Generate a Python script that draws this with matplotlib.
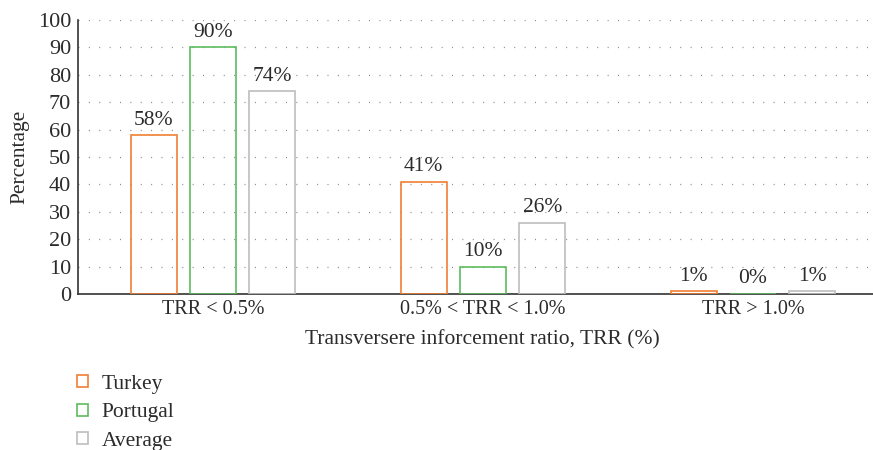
import matplotlib.pyplot as plt
import numpy as np
from matplotlib.patches import Patch

categories = ["TRR < 0.5%", "0.5% < TRR < 1.0%", "TRR > 1.0%"]
series = ["Turkey", "Portugal", "Average"]
turkey = [58, 41, 1]
portugal = [90, 10, 0]
average = [74, 26, 1]
colors = ["#F07F35", "#5DBB5D", "#BDBDBD"]

plt.rcParams['font.family'] = ['Liberation Serif', 'DejaVu Serif']
txt = "#2b2b2b"
fs = 15.5

fig = plt.figure(figsize=(8.73, 4.5), dpi=100)
ax = fig.add_axes([78 / 873, 156 / 450, 810 / 873, 274 / 450])

x = np.arange(len(categories))
offsets = [-0.22, 0.0, 0.22]
w = 0.17
for vals, off, col in zip([turkey, portugal, average], offsets, colors):
    bars = ax.bar(x + off, vals, w, facecolor="none", edgecolor=col, linewidth=1.2, zorder=3)
    for b, v in zip(bars, vals):
        ax.annotate(f"{v}%", (b.get_x() + b.get_width() / 2, v), xytext=(0, 4),
                    textcoords="offset points", ha="center", va="bottom",
                    fontsize=fs, color=txt)

ax.set_xlim(-0.5, 2.5)
ax.set_ylim(0, 100)
ax.set_yticks(range(0, 101, 10))
ax.set_xticks(x)
ax.set_xticklabels(categories)
ax.tick_params(length=0, colors=txt)
ax.tick_params(axis="y", pad=5, labelsize=16)
ax.tick_params(axis="x", pad=4, labelsize=14.5)
ax.yaxis.grid(True, linestyle=(0, (0.8, 7.5)), color="#888888", linewidth=0.9)
ax.set_axisbelow(True)
for s in ["top", "right"]:
    ax.spines[s].set_visible(False)
for s in ["left", "bottom"]:
    ax.spines[s].set_color("#333333")
    ax.spines[s].set_linewidth(1.2)

ax.set_ylabel("Percentage", fontsize=fs, color=txt, va="center")
ax.yaxis.set_label_coords(-(78 - 20) / 810, 0.5)
ax.set_xlabel("Transversere inforcement ratio, TRR (%)", fontsize=fs, color=txt)
ax.xaxis.set_label_coords((482 - 78) / 810, -(340 - 294) / 274)
ax.xaxis.label.set_va("center")

handles = [Patch(facecolor="none", edgecolor=c, linewidth=1.2) for c in colors]
fig.legend(handles, series, loc="upper left", bbox_to_anchor=(77 / 873, 1 - 375 / 450),
           frameon=False, fontsize=fs, handlelength=0.5, handleheight=0.5,
           borderpad=0, borderaxespad=0, labelspacing=0.44, handletextpad=0.65,
           labelcolor=txt)

fig.savefig("out.png", dpi=100)
